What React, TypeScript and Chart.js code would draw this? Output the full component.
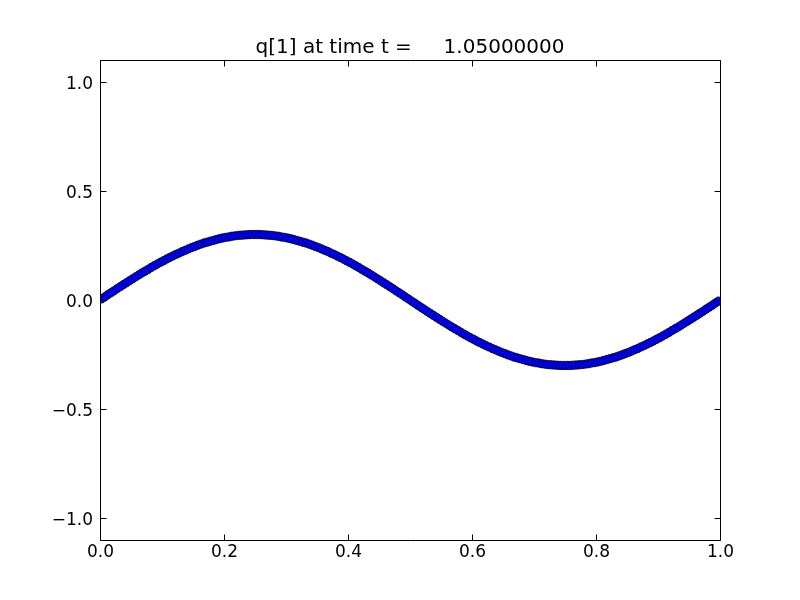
import { useEffect, useRef } from "react";
import { Chart, registerables } from "chart.js";

Chart.register(...registerables);

const TITLE = "q[1] at time t =     1.05000000";

const xValues = [
  0.0025, 0.0075, 0.0125, 0.0175, 0.0225, 0.0275, 0.0325, 0.0375, 0.0425, 0.0475,
  0.0525, 0.0575, 0.0625, 0.0675, 0.0725, 0.0775, 0.0825, 0.0875, 0.0925, 0.0975,
  0.1025, 0.1075, 0.1125, 0.1175, 0.1225, 0.1275, 0.1325, 0.1375, 0.1425, 0.1475,
  0.1525, 0.1575, 0.1625, 0.1675, 0.1725, 0.1775, 0.1825, 0.1875, 0.1925, 0.1975,
  0.2025, 0.2075, 0.2125, 0.2175, 0.2225, 0.2275, 0.2325, 0.2375, 0.2425, 0.2475,
  0.2525, 0.2575, 0.2625, 0.2675, 0.2725, 0.2775, 0.2825, 0.2875, 0.2925, 0.2975,
  0.3025, 0.3075, 0.3125, 0.3175, 0.3225, 0.3275, 0.3325, 0.3375, 0.3425, 0.3475,
  0.3525, 0.3575, 0.3625, 0.3675, 0.3725, 0.3775, 0.3825, 0.3875, 0.3925, 0.3975,
  0.4025, 0.4075, 0.4125, 0.4175, 0.4225, 0.4275, 0.4325, 0.4375, 0.4425, 0.4475,
  0.4525, 0.4575, 0.4625, 0.4675, 0.4725, 0.4775, 0.4825, 0.4875, 0.4925, 0.4975,
  0.5025, 0.5075, 0.5125, 0.5175, 0.5225, 0.5275, 0.5325, 0.5375, 0.5425, 0.5475,
  0.5525, 0.5575, 0.5625, 0.5675, 0.5725, 0.5775, 0.5825, 0.5875, 0.5925, 0.5975,
  0.6025, 0.6075, 0.6125, 0.6175, 0.6225, 0.6275, 0.6325, 0.6375, 0.6425, 0.6475,
  0.6525, 0.6575, 0.6625, 0.6675, 0.6725, 0.6775, 0.6825, 0.6875, 0.6925, 0.6975,
  0.7025, 0.7075, 0.7125, 0.7175, 0.7225, 0.7275, 0.7325, 0.7375, 0.7425, 0.7475,
  0.7525, 0.7575, 0.7625, 0.7675, 0.7725, 0.7775, 0.7825, 0.7875, 0.7925, 0.7975,
  0.8025, 0.8075, 0.8125, 0.8175, 0.8225, 0.8275, 0.8325, 0.8375, 0.8425, 0.8475,
  0.8525, 0.8575, 0.8625, 0.8675, 0.8725, 0.8775, 0.8825, 0.8875, 0.8925, 0.8975,
  0.9025, 0.9075, 0.9125, 0.9175, 0.9225, 0.9275, 0.9325, 0.9375, 0.9425, 0.9475,
  0.9525, 0.9575, 0.9625, 0.9675, 0.9725, 0.9775, 0.9825, 0.9875, 0.9925, 0.9975,
];

const qValues = [
  0.005, 0.014, 0.024, 0.033, 0.042, 0.052, 0.061, 0.070, 0.079, 0.088,
  0.097, 0.106, 0.115, 0.124, 0.132, 0.140, 0.149, 0.157, 0.165, 0.173,
  0.180, 0.188, 0.195, 0.202, 0.209, 0.215, 0.222, 0.228, 0.234, 0.240,
  0.245, 0.251, 0.256, 0.261, 0.265, 0.269, 0.273, 0.277, 0.281, 0.284,
  0.287, 0.289, 0.292, 0.294, 0.296, 0.297, 0.298, 0.299, 0.300, 0.300,
  0.300, 0.300, 0.299, 0.298, 0.297, 0.296, 0.294, 0.292, 0.289, 0.287,
  0.284, 0.281, 0.277, 0.273, 0.269, 0.265, 0.261, 0.256, 0.251, 0.245,
  0.240, 0.234, 0.228, 0.222, 0.215, 0.209, 0.202, 0.195, 0.188, 0.180,
  0.173, 0.165, 0.157, 0.149, 0.140, 0.132, 0.124, 0.115, 0.106, 0.097,
  0.088, 0.079, 0.070, 0.061, 0.052, 0.042, 0.033, 0.024, 0.014, 0.005,
  -0.005, -0.014, -0.024, -0.033, -0.042, -0.052, -0.061, -0.070, -0.079, -0.088,
  -0.097, -0.106, -0.115, -0.124, -0.132, -0.140, -0.149, -0.157, -0.165, -0.173,
  -0.180, -0.188, -0.195, -0.202, -0.209, -0.215, -0.222, -0.228, -0.234, -0.240,
  -0.245, -0.251, -0.256, -0.261, -0.265, -0.269, -0.273, -0.277, -0.281, -0.284,
  -0.287, -0.289, -0.292, -0.294, -0.296, -0.297, -0.298, -0.299, -0.300, -0.300,
  -0.300, -0.300, -0.299, -0.298, -0.297, -0.296, -0.294, -0.292, -0.289, -0.287,
  -0.284, -0.281, -0.277, -0.273, -0.269, -0.265, -0.261, -0.256, -0.251, -0.245,
  -0.240, -0.234, -0.228, -0.222, -0.215, -0.209, -0.202, -0.195, -0.188, -0.180,
  -0.173, -0.165, -0.157, -0.149, -0.140, -0.132, -0.124, -0.115, -0.106, -0.097,
  -0.088, -0.079, -0.070, -0.061, -0.052, -0.042, -0.033, -0.024, -0.014, -0.005,
];

const X_MIN = 0;
const X_MAX = 1;
const X_STEP = 0.2;
const Y_MIN = -1.1;
const Y_MAX = 1.1;
const Y_STEP = 0.5;

const FONT = '"DejaVu Sans", sans-serif';

function fmt(v: number) {
  return v.toFixed(1).replace("-", "\u2212");
}

const mplPlugin = {
  id: "mplFrame",
  beforeDraw(chart: any) {
    const { ctx, width, height } = chart;
    ctx.save();
    ctx.fillStyle = "#ffffff";
    ctx.fillRect(0, 0, width, height);
    ctx.restore();
  },
  afterDraw(chart: any) {
    const { ctx, chartArea: a, scales } = chart;
    const L = a.left + 0.5;
    const R = a.right + 0.5;
    const T = a.top + 0.5;
    const B = a.bottom + 0.5;
    const TL = 6;
    ctx.save();
    ctx.strokeStyle = "#000000";
    ctx.lineWidth = 1;
    ctx.beginPath();
    ctx.rect(L, T, R - L, B - T);
    ctx.stroke();

    ctx.fillStyle = "#000000";
    ctx.font = `17px ${FONT}`;

    // x ticks
    ctx.textAlign = "center";
    ctx.textBaseline = "alphabetic";
    for (const t of scales.x.ticks) {
      const px = Math.round(scales.x.getPixelForValue(t.value)) + 0.5;
      ctx.beginPath();
      ctx.moveTo(px, B);
      ctx.lineTo(px, B - TL);
      ctx.moveTo(px, T);
      ctx.lineTo(px, T + TL);
      ctx.stroke();
      ctx.fillText(fmt(t.value), px, a.bottom + 17);
    }

    // y ticks
    ctx.textAlign = "right";
    for (const t of scales.y.ticks) {
      const py = Math.round(scales.y.getPixelForValue(t.value)) + 0.5;
      ctx.beginPath();
      ctx.moveTo(L, py);
      ctx.lineTo(L + TL, py);
      ctx.moveTo(R, py);
      ctx.lineTo(R - TL, py);
      ctx.stroke();
      ctx.fillText(fmt(t.value), a.left - 7, py + 6);
    }

    // title
    ctx.font = `20px ${FONT}`;
    ctx.textAlign = "center";
    ctx.fillText(TITLE, (a.left + a.right) / 2, a.top - 7);
    ctx.restore();
  },
};

export default function App() {
  const ref = useRef<HTMLCanvasElement>(null);

  useEffect(() => {
    document.body.style.margin = "0";
    const canvas = ref.current;
    if (!canvas) return;
    const chart = new Chart(canvas, {
      type: "scatter",
      data: {
        datasets: [
          {
            data: xValues.map((x, i) => ({ x, y: qValues[i] })),
            pointRadius: 4.2,
            pointBackgroundColor: "#0000ff",
            pointBorderColor: "#000000",
            pointBorderWidth: 0.7,
            showLine: false,
            clip: 0,
          } as any,
        ],
      },
      options: {
        responsive: false,
        animation: false,
        devicePixelRatio: 1,
        layout: { padding: { left: 100, right: 80, top: 60, bottom: 60 } },
        plugins: {
          legend: { display: false },
          tooltip: { enabled: false },
          title: { display: false },
        },
        events: [],
        scales: {
          x: {
            type: "linear",
            min: X_MIN,
            max: X_MAX,
            ticks: { display: false, stepSize: X_STEP, includeBounds: false },
            grid: { display: false },
            border: { display: false },
            afterFit: (s: any) => {
              s.height = 0;
            },
          },
          y: {
            type: "linear",
            min: Y_MIN,
            max: Y_MAX,
            ticks: { display: false, stepSize: Y_STEP, includeBounds: false },
            grid: { display: false },
            border: { display: false },
            afterFit: (s: any) => {
              s.width = 0;
            },
          },
        },
      } as any,
      plugins: [mplPlugin],
    });
    return () => chart.destroy();
  }, []);

  return (
    <div style={{ width: 800, height: 600 }}>
      <canvas ref={ref} width={800} height={600} style={{ display: "block" }} />
    </div>
  );
}
